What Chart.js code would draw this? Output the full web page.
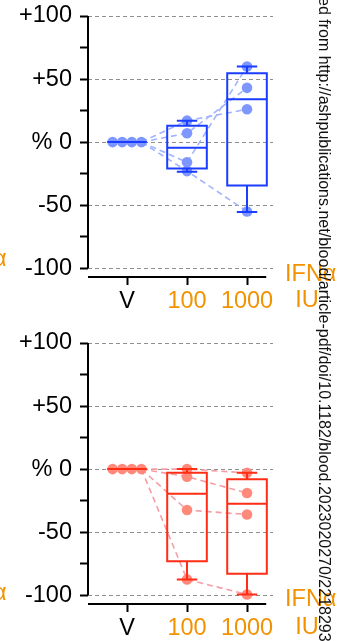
<!DOCTYPE html>
<html>
<head>
<meta charset="utf-8">
<script src="https://cdn.jsdelivr.net/npm/chart.js@4.4.0/dist/chart.umd.min.js"></script>
<style>
  html, body { margin: 0; padding: 0; background: #fff; overflow: hidden; }
  body { width: 358px; height: 641px; position: relative; font-family: "Liberation Sans", Arial, sans-serif; }
  .panel { position: absolute; left: 0; width: 358px; overflow: visible; }
  .panel canvas { position: absolute; left: 0; top: 0; }
  .lab { position: absolute; color: #f39200; font-size: 23.5px; line-height: 28px; white-space: nowrap; }
  #watermark {
    position: absolute; left: 316px; top: -3px; height: 680px;
    writing-mode: vertical-rl; font-size: 16px; line-height: 17px; color: #111; white-space: nowrap;
  }
</style>
</head>
<body>
<div class="panel" style="top:0;height:327px">
  <canvas id="chartTop" width="358" height="327"></canvas>
  <div class="lab" style="left:-7px;top:244px">α</div>
  <div class="lab" style="left:285px;top:259px">IFNα</div>
  <div class="lab" style="left:287px;top:285px;width:40px;text-align:center">IU</div>
</div>
<div class="panel" style="top:327px;height:314px">
  <canvas id="chartBottom" width="358" height="314"></canvas>
  <div class="lab" style="left:-7px;top:251px">α</div>
  <div class="lab" style="left:285px;top:257px">IFNα</div>
  <div class="lab" style="left:287px;top:285px;width:40px;text-align:center">IU</div>
</div>
<div id="watermark">ed from http://ashpublications.net/blood/article-pdf/doi/10.1182/blood.2023020270/2218293</div>

<script>
// dose groups on the x axis
const doseX = [0, 1, 2];
const doseLabels = ['V', '100', '1000'];
const doseLabelColors = ['#000000', '#f39200', '#f39200'];
// y tick labels
const yTickValues = [100, 50, 0, -50, -100];
const yTickText = ['+100', '+50', '% 0', '-50', '-100'];
// vehicle dots are spread sideways, links start from the last one
const vJitter = [-0.24, -0.08, 0.08, 0.24];
const linkX = [0.24, 1, 2];

// top panel (blue): % change per donor at V, 100, 1000 IU
const blueDonorA = [0, 17, 26];
const blueDonorB = [0, 7, 43];
const blueDonorC = [0, -16, 60];
const blueDonorD = [0, -23, -55];
const blueMin = [0, -23.5, -55.5];
const blueQ1 = [0, -21, -34.5];
const blueMedian = [0, -4.5, 34];
const blueQ3 = [0, 13, 54.5];
const blueMax = [0, 17, 60];

// bottom panel (red)
const redDonorA = [0, 0, -3];
const redDonorB = [0, -6, -19];
const redDonorC = [0, -32.5, -36];
const redDonorD = [0, -87.5, -99.5];
const redMin = [0, -87.5, -99.5];
const redQ1 = [0, -73, -83];
const redMedian = [0, -19.5, -27.5];
const redQ3 = [0, -3, -8];
const redMax = [0, 0, -3];

const FONT = { family: '"Liberation Sans", Arial, sans-serif', size: 23.5 };

// box + whiskers drawn from the stat arrays through the chart scales
const boxPlugin = {
  id: 'boxes',
  afterDatasetsDraw(chart, args, opts) {
    const { ctx, scales: { x, y } } = chart;
    ctx.save();
    ctx.strokeStyle = opts.color;
    ctx.lineWidth = 2;
    for (let k = 0; k < doseX.length; k++) {
      const cx = x.getPixelForValue(doseX[k]);
      const hw = x.getPixelForValue(doseX[k] + 0.33) - cx;
      const cw = x.getPixelForValue(doseX[k] + 0.17) - cx;
      const pMin = y.getPixelForValue(opts.min[k]);
      const pQ1 = y.getPixelForValue(opts.q1[k]);
      const pMed = y.getPixelForValue(opts.median[k]);
      const pQ3 = y.getPixelForValue(opts.q3[k]);
      const pMax = y.getPixelForValue(opts.max[k]);
      ctx.beginPath();
      ctx.rect(cx - hw, pQ3, hw * 2, pQ1 - pQ3);
      ctx.moveTo(cx - hw, pMed); ctx.lineTo(cx + hw, pMed);
      ctx.moveTo(cx, pQ3); ctx.lineTo(cx, pMax);
      ctx.moveTo(cx - cw, pMax); ctx.lineTo(cx + cw, pMax);
      ctx.moveTo(cx, pQ1); ctx.lineTo(cx, pMin);
      ctx.moveTo(cx - cw, pMin); ctx.lineTo(cx + cw, pMin);
      ctx.stroke();
    }
    ctx.restore();
  },
  afterDraw(chart) {
    // detached axis lines
    const { ctx, chartArea, scales: { x, y } } = chart;
    ctx.save();
    ctx.strokeStyle = '#000';
    ctx.lineWidth = 2;
    ctx.beginPath();
    ctx.moveTo(chartArea.left, y.getPixelForValue(100));
    ctx.lineTo(chartArea.left, y.getPixelForValue(-100));
    ctx.moveTo(chartArea.left, chartArea.bottom);
    ctx.lineTo(x.getPixelForValue(2.32), chartArea.bottom);
    ctx.stroke();
    ctx.restore();
  }
};

function makeChart(id, donors, stats, colors) {
  const canvas = document.getElementById(id);
  const datasets = [];

  // dashed lines joining each donor's values
  donors.forEach(d => {
    datasets.push({
      data: linkX.map((xv, k) => ({ x: xv, y: d[k] })),
      showLine: true,
      borderColor: colors.link,
      borderWidth: 1.6,
      borderDash: [6, 4],
      pointRadius: 0,
      order: 2
    });
  });

  // individual donor dots
  const dots = [];
  donors.forEach((d, i) => {
    dots.push({ x: vJitter[i], y: d[0] });
    dots.push({ x: doseX[1], y: d[1] });
    dots.push({ x: doseX[2], y: d[2] });
  });
  datasets.push({
    data: dots,
    backgroundColor: colors.dot,
    borderWidth: 0,
    pointRadius: 5.3,
    order: 1
  });

  return new Chart(canvas, {
    type: 'scatter',
    data: { datasets },
    options: {
      responsive: false,
      animation: false,
      devicePixelRatio: 1,
      layout: { padding: { top: 16, right: 85, bottom: 0, left: 0 } },
      plugins: {
        legend: { display: false },
        tooltip: { enabled: false },
        boxes: { color: colors.box, ...stats }
      },
      scales: {
        x: {
          type: 'linear',
          min: -0.65,
          max: 2.433,
          afterFit: s => { s.height = canvas.height - 277; s.paddingLeft = 0; s.paddingRight = 0; },
          border: { display: false },
          grid: { drawOnChartArea: false, drawTicks: true, tickLength: 8, tickWidth: 2, tickColor: '#000' },
          ticks: {
            stepSize: 1,
            includeBounds: false,
            padding: 2,
            font: FONT,
            color: c => doseLabelColors[doseX.indexOf(c.tick.value)] || '#000',
            callback: v => doseLabels[doseX.indexOf(v)] ?? ''
          }
        },
        y: {
          min: -107,
          max: 100,
          afterFit: s => { s.width = 88; s.paddingTop = 0; s.paddingBottom = 0; },
          border: { display: false, dash: [4, 3] },
          grid: {
            color: c => (c.tick && c.tick.value % 50 === 0) ? '#8f8f8f' : 'rgba(0,0,0,0)',
            lineWidth: 1,
            tickLength: 8,
            tickWidth: 2,
            tickColor: '#000',
            tickBorderDash: []
          },
          ticks: {
            stepSize: 25,
            includeBounds: false,
            padding: 8,
            font: FONT,
            color: '#000',
            callback: v => { const i = yTickValues.indexOf(v); return i >= 0 ? yTickText[i] : ''; }
          }
        }
      }
    },
    plugins: [boxPlugin]
  });
}

makeChart('chartTop',
  [blueDonorA, blueDonorB, blueDonorC, blueDonorD],
  { min: blueMin, q1: blueQ1, median: blueMedian, q3: blueQ3, max: blueMax },
  { box: '#1a3dff', dot: '#7e97ff', link: '#a2b4ff' });

makeChart('chartBottom',
  [redDonorA, redDonorB, redDonorC, redDonorD],
  { min: redMin, q1: redQ1, median: redMedian, q3: redQ3, max: redMax },
  { box: '#ff2d14', dot: '#ff8a7b', link: '#f59ea6' });
</script>
</body>
</html>
